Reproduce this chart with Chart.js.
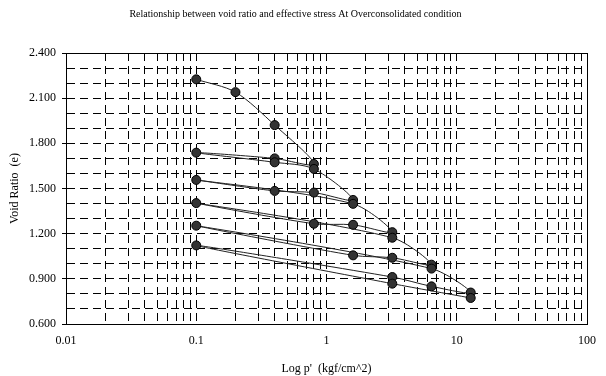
<!DOCTYPE html>
<html><head><meta charset="utf-8">
<script src="https://cdn.jsdelivr.net/npm/chart.js@4/dist/chart.umd.min.js"></script>
<style>html,body{margin:0;padding:0;background:#fff}#wrap{width:606px;height:376px;position:relative}</style>
</head><body><div id="wrap"><canvas id="c"></canvas></div>
<script>
// Loading / unloading / reloading sequence (kgf/cm^2) and void ratio
const pressure  = [0.1, 0.2, 0.4, 0.8, 0.4, 0.1, 0.4, 0.8, 1.6, 0.8, 0.4, 0.1, 1.6, 3.2, 1.6, 0.8, 0.1, 3.2, 6.4, 3.2, 1.6, 0.1, 6.4, 12.8, 6.4, 3.2, 0.1, 3.2, 12.8];
const voidRatio = [2.225, 2.140, 1.921, 1.663, 1.700, 1.738, 1.674, 1.630, 1.424, 1.473, 1.484, 1.557, 1.398, 1.210, 1.259, 1.266, 1.403, 1.173, 0.994, 1.040, 1.056, 1.253, 0.968, 0.809, 0.850, 0.912, 1.122, 0.868, 0.773];
const xTickLabels = ['0.01', '0.1', '1', '10', '100'];
const yTickLabels = ['0.600', '0.900', '1.200', '1.500', '1.800', '2.100', '2.400'];

const points = pressure.map((p, i) => ({x: p, y: voidRatio[i]}));
const xLabelValues = xTickLabels.map(Number);
const yLabelValues = yTickLabels.map(Number);
const FONT = 'Liberation Serif';

const frame = {
  id: 'frame',
  beforeDatasetsDraw(chart) {
    const a = chart.chartArea, ctx = chart.ctx;
    ctx.save();
    ctx.strokeStyle = '#000';
    ctx.lineWidth = 1;
    ctx.strokeRect(Math.round(a.left) + 0.5, Math.round(a.top) + 0.5, Math.round(a.right - a.left), Math.round(a.bottom - a.top));
    ctx.restore();
  }
};

new Chart(document.getElementById('c'), {
  type: 'line',
  data: {
    datasets: [{
      data: points,
      borderColor: '#222',
      borderWidth: 1,
      tension: 0.3,
      pointRadius: 4.5,
      pointBackgroundColor: '#333',
      pointBorderColor: '#000',
      pointBorderWidth: 1,
      fill: false
    }]
  },
  plugins: [frame],
  options: {
    responsive: true,
    maintainAspectRatio: false,
    animation: false,
    events: [],
    layout: {padding: {left: 0, right: 15, top: 0, bottom: 0}},
    plugins: {
      legend: {display: false},
      tooltip: {enabled: false},
      title: {
        display: true,
        text: 'Relationship between void ratio and effective stress At Overconsolidated condition',
        color: '#000',
        font: {family: FONT, size: 10, weight: 'normal'},
        padding: {top: 8, bottom: 33}
      }
    },
    scales: {
      x: {
        type: 'logarithmic',
        min: 0.01,
        max: 100,
        afterBuildTicks(scale) {
          const t = [];
          for (let k = -2; k <= 1; k++) {
            for (let m = 1; m <= 9; m++) t.push({value: Number((m * Math.pow(10, k)).toPrecision(3))});
          }
          t.push({value: 100});
          scale.ticks = t;
        },
        afterFit(scale) { scale.height = 52; },
        ticks: {
          autoSkip: false,
          maxRotation: 0,
          color: '#000',
          font: {family: FONT, size: 12},
          padding: 10,
          callback(v) {
            const i = xLabelValues.findIndex(q => Math.abs(q - v) < 1e-9);
            return i >= 0 ? xTickLabels[i] : '';
          }
        },
        grid: {color: '#000', lineWidth: 1, drawTicks: false},
        border: {display: true, color: '#000', width: 1, dash: [8, 5]},
        title: {
          display: true,
          text: "Log p'  (kgf/cm^2)",
          color: '#000',
          font: {family: FONT, size: 12},
          padding: {top: 4, bottom: 0}
        }
      },
      y: {
        type: 'linear',
        min: 0.6,
        max: 2.4,
        afterFit(scale) { scale.width = 66; },
        ticks: {
          stepSize: 0.1,
          autoSkip: false,
          color: '#000',
          font: {family: FONT, size: 12},
          padding: 6,
          callback(v) {
            const i = yLabelValues.findIndex(q => Math.abs(q - v) < 1e-6);
            return i >= 0 ? yTickLabels[i] : '';
          }
        },
        grid: {
          color: '#000',
          lineWidth: 1,
          tickLength: 4,
          tickColor(ctx) {
            const v = ctx.tick && ctx.tick.value;
            return yLabelValues.some(q => Math.abs(q - v) < 1e-6) ? '#000' : 'rgba(0,0,0,0)';
          }
        },
        border: {display: true, color: '#000', width: 1, dash: [8, 5]},
        title: {
          display: true,
          text: 'Void Ratio  (e)',
          color: '#000',
          font: {family: FONT, size: 12},
          padding: {top: 8, bottom: 0}
        }
      }
    }
  }
});
</script>
</body></html>
